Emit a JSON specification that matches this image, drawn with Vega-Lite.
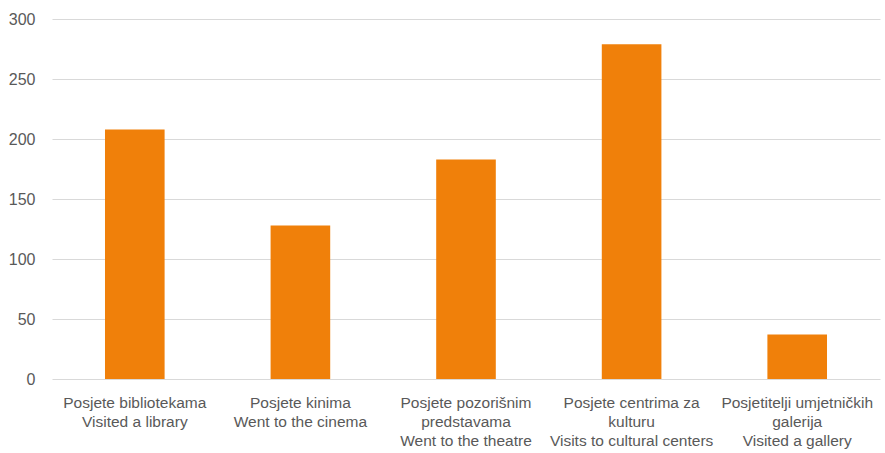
{
  "$schema": "https://vega.github.io/schema/vega-lite/v6.json",
  "width": 828,
  "height": 360,
  "autosize": {"type": "none"},
  "padding": {"left": 52, "top": 19, "right": 5, "bottom": 74},
  "background": "white",
  "data": {
    "values": [
      {"cat": "Posjete bibliotekama|Visited a library", "value": 208},
      {"cat": "Posjete kinima|Went to the cinema", "value": 128},
      {"cat": "Posjete pozorišnim|predstavama|Went to the theatre", "value": 183},
      {"cat": "Posjete centrima za|kulturu|Visits to cultural centers", "value": 279},
      {"cat": "Posjetitelji umjetničkih|galerija|Visited a gallery", "value": 37}
    ]
  },
  "mark": {"type": "bar", "color": "#F0800A"},
  "encoding": {
    "x": {
      "field": "cat",
      "type": "nominal",
      "sort": null,
      "scale": {"paddingInner": 0.64, "paddingOuter": 0.32},
      "axis": {
        "title": null,
        "labelAngle": 0,
        "labelExpr": "split(datum.label, '|')",
        "labelFont": "Liberation Sans",
        "labelFontSize": 15.5,
        "labelColor": "#595959",
        "labelLineHeight": 19,
        "labelPadding": 16,
        "labelLimit": 300,
        "domain": false,
        "ticks": false,
        "grid": false
      }
    },
    "y": {
      "field": "value",
      "type": "quantitative",
      "scale": {"domain": [0, 300]},
      "axis": {
        "title": null,
        "values": [0, 50, 100, 150, 200, 250, 300],
        "labelFont": "Liberation Sans",
        "labelFontSize": 16,
        "labelColor": "#595959",
        "labelPadding": 17,
        "domain": false,
        "ticks": false,
        "grid": true,
        "gridColor": "#d9d9d9",
        "gridWidth": 1
      }
    }
  },
  "config": {"view": {"stroke": null}}
}
